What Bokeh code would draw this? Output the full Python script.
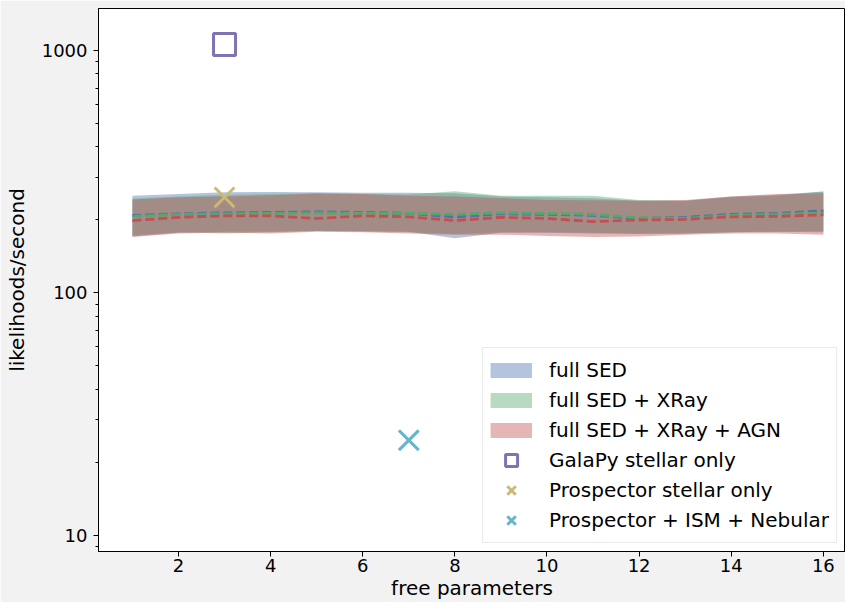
from bokeh.plotting import figure
from bokeh.models import Range1d, FixedTicker, LogTicker, Legend, LegendItem, ColumnDataSource, PrintfTickFormatter
from bokeh.embed import file_html
from bokeh.resources import INLINE

# ---------------- data ----------------
free_params = [1, 2, 3, 4, 5, 6, 7, 8, 9, 10, 11, 12, 13, 14, 15, 16]

full_med = [209, 212, 214, 215, 216, 215, 213, 206, 212, 211, 209, 203, 205, 211, 213, 218]
full_hi = [252, 256, 260, 261, 260, 259, 259, 258, 250, 248, 246, 240, 240, 250, 254, 262]
full_lo = [171, 177, 179, 179, 180, 180, 179, 168, 177, 177, 176, 175, 176, 178, 179, 178]

xray_med = [207, 211, 212, 213, 214, 213, 213, 211, 214, 213, 211, 204, 203, 209, 211, 214]
xray_hi = [245, 250, 254, 256, 258, 256, 255, 263, 252, 252, 252, 242, 240, 248, 252, 262]
xray_lo = [173, 178, 176, 178, 180, 179, 178, 175, 178, 178, 177, 176, 176, 178, 179, 180]

agn_med = [199, 205, 208, 208, 203, 208, 206, 199, 205, 203, 197, 200, 201, 206, 207, 210]
agn_hi = [243, 248, 250, 253, 257, 256, 252, 250, 246, 242, 241, 240, 242, 250, 256, 258]
agn_lo = [170, 176, 177, 176, 179, 178, 176, 174, 174, 172, 170, 171, 174, 176, 176, 174]

galapy_x = [3]
galapy_y = [1058]
prosp_x = [3]
prosp_y = [248]
prosp_neb_x = [7]
prosp_neb_y = [24.7]

band_labels = ["full SED", "full SED + XRay", "full SED + XRay + AGN"]
band_colors = ["#4C72B0", "#55A868", "#C44E52"]
marker_labels = ["GalaPy stellar only", "Prospector stellar only", "Prospector + ISM + Nebular"]
marker_colors = ["#8172B2", "#CCB974", "#64B5CD"]

x_ticks = [2, 4, 6, 8, 10, 12, 14, 16]

FONT = "DejaVu Sans"

# ---------------- figure ----------------
p = figure(width=845, height=602, x_range=Range1d(0.264, 16.48), y_range=Range1d(8.59, 1490),
           y_axis_type="log", output_backend="svg", toolbar_location=None,
           min_border_left=98, min_border_right=0, min_border_top=8, min_border_bottom=40)
p.border_fill_color = "#f2f2f2"
p.background_fill_color = "white"
p.outline_line_color = "black"
p.outline_line_width = 1
p.xgrid.visible = False
p.ygrid.visible = False

bands = [(full_lo, full_hi, full_med), (xray_lo, xray_hi, xray_med), (agn_lo, agn_hi, agn_med)]
for (lo, hi, med), c in zip(bands, band_colors):
    src = ColumnDataSource(dict(x=free_params, lo=lo, hi=hi))
    p.varea(x="x", y1="lo", y2="hi", source=src, fill_color=c, fill_alpha=0.42)
for (lo, hi, med), c in zip(bands, band_colors):
    p.line(free_params, med, line_color=c, line_width=2.8, line_dash="9 4")

sq = p.scatter(galapy_x, galapy_y, marker="square", size=22, line_color=marker_colors[0],
               line_width=3, fill_color=None)
x1 = p.scatter(prosp_x, prosp_y, marker="x", size=28, line_color=marker_colors[1], line_width=3)
x2 = p.scatter(prosp_neb_x, prosp_neb_y, marker="x", size=28, line_color=marker_colors[2], line_width=3)

# legend proxies for the bands (no visible marks)
proxies = []
for c in band_colors:
    r = p.line(x=[float("nan")], y=[float("nan")], line_color=c, line_alpha=0.42, line_width=15)
    proxies.append(r)

items = [LegendItem(label=l, renderers=[r]) for l, r in zip(band_labels, proxies)]
items += [LegendItem(label=marker_labels[0], renderers=[sq]),
          LegendItem(label=marker_labels[1], renderers=[x1]),
          LegendItem(label=marker_labels[2], renderers=[x2])]
legend = Legend(items=items, location="bottom_right")
legend.label_text_font = FONT
legend.label_text_font_size = "20px"
legend.label_text_color = "black"
legend.glyph_width = 42
legend.glyph_height = 30
legend.label_height = 20
legend.spacing = 0
legend.padding = 7
legend.label_standoff = 17
legend.margin = 8
legend.border_line_color = "#d5d5d5"
legend.border_line_width = 1
legend.background_fill_alpha = 0.85
p.add_layout(legend)

# axes
p.xaxis.ticker = FixedTicker(ticks=x_ticks)
p.yaxis.ticker = LogTicker(num_minor_ticks=10)
p.yaxis.formatter = PrintfTickFormatter(format="%d")
for ax in (p.xaxis[0], p.yaxis[0]):
    ax.major_label_text_font = FONT
    ax.major_label_text_font_size = "18px"
    ax.major_label_text_color = "black"
    ax.axis_label_text_font = FONT
    ax.axis_label_text_font_size = "20px"
    ax.axis_label_text_font_style = "normal"
    ax.axis_label_text_color = "black"
    ax.axis_line_color = "black"
    ax.major_tick_line_color = "black"
    ax.minor_tick_line_color = "black"
    ax.major_tick_in = 0
    ax.major_tick_out = 5
    ax.minor_tick_in = 0
    ax.minor_tick_out = 3
    ax.major_label_standoff = 2
    ax.axis_label_standoff = 1
p.yaxis.major_label_standoff = 6
p.yaxis.axis_label_standoff = 10
p.xaxis.axis_label = "free parameters"
p.yaxis.axis_label = "likelihoods/second"
p.xaxis.minor_tick_line_color = None

open("out.html", "w").write(file_html(p, INLINE))
